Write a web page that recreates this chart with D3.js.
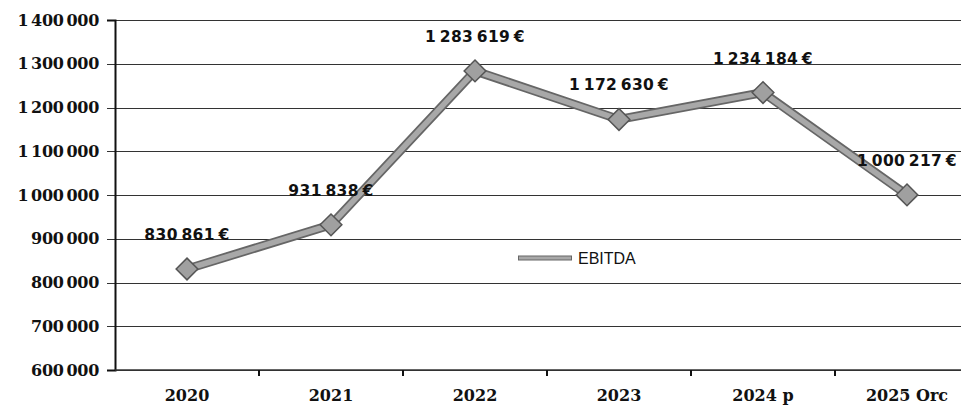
<!DOCTYPE html>
<html>
<head>
<meta charset="utf-8">
<script src="https://cdn.jsdelivr.net/npm/d3@7"></script>
<style>
  body { margin: 0; background: #fff; }
  svg { display: block; }
</style>
</head>
<body>
<div id="wrapper"></div>
<script>
// data
const years = ["2020", "2021", "2022", "2023", "2024 p", "2025 Orc"]
const ebitda = [830861, 931838, 1283619, 1172630, 1234184, 1000217]
const yTicks = [600000, 700000, 800000, 900000, 1000000, 1100000, 1200000, 1300000, 1400000]
const seriesName = "EBITDA"

function drawChart() {
    const width = 961
    const height = 405
    // the plot runs past the right edge of the window, like the scan
    const margin = { top: 20, left: 115, bottom: 35 }
    const plotRight = 979

    const svg = d3.select("#wrapper")
        .append("svg")
            .attr("width", width)
            .attr("height", height)

    const xScale = d3.scaleBand()
        .domain(years)
        .range([margin.left, plotRight])
        .paddingInner(0)

    const yScale = d3.scaleLinear()
        .domain([600000, 1400000])
        .range([height - margin.bottom, margin.top])

    // numbers with a narrow space as thousands separator
    const fmt = d3.formatLocale({ decimal: ",", thousands: "\u2009", grouping: [3], currency: ["", ""] }).format(",.0f")

    // grid lines
    svg.append("g")
        .selectAll("line")
        .data(yTicks)
        .join("line")
            .attr("x1", margin.left - 8)
            .attr("x2", width)
            .attr("y1", d => Math.round(yScale(d)) + 0.5)
            .attr("y2", d => Math.round(yScale(d)) + 0.5)
            .attr("stroke", "#333")
            .attr("stroke-width", 1)

    // y axis
    const yAxis = svg.append("g")
        .attr("transform", `translate(${margin.left},0)`)
        .call(d3.axisLeft(yScale).tickValues(yTicks).tickFormat(fmt).tickSize(8).tickPadding(8))
    yAxis.select(".domain").attr("stroke", "#111").attr("stroke-width", 2)
    yAxis.selectAll(".tick line").remove()
    yAxis.selectAll("text")
        .attr("font-family", "DejaVu Serif")
        .attr("font-weight", "bold")
        .attr("font-size", "16px")
        .attr("letter-spacing", "-0.3px")
        .attr("fill", "#111")
        .attr("x", -16)

    // x axis, ticks between the categories
    const xAxisY = yScale(600000)
    svg.append("line")
        .attr("x1", margin.left)
        .attr("x2", width)
        .attr("y1", xAxisY)
        .attr("y2", xAxisY)
        .attr("stroke", "#333")
        .attr("stroke-width", 1.5)

    svg.append("g")
        .selectAll("line")
        .data(years.slice(1))
        .join("line")
            .attr("x1", d => xScale(d))
            .attr("x2", d => xScale(d))
            .attr("y1", xAxisY)
            .attr("y2", xAxisY + 6)
            .attr("stroke", "#111")
            .attr("stroke-width", 2)

    svg.append("g")
        .selectAll("text")
        .data(years)
        .join("text")
            .attr("x", d => xScale(d) + xScale.bandwidth() / 2)
            .attr("y", 401)
            .attr("text-anchor", "middle")
            .attr("font-family", "DejaVu Serif")
            .attr("font-weight", "bold")
            .attr("font-size", "16px")
            .attr("fill", "#111")
            .text(d => d)

    // the line, drawn twice to get a darker edge
    const cx = (d, i) => xScale(years[i]) + xScale.bandwidth() / 2
    const lineGenerator = d3.line()
        .x(cx)
        .y(d => yScale(d))

    svg.append("path")
        .attr("d", lineGenerator(ebitda))
        .attr("fill", "none")
        .attr("stroke", "#666")
        .attr("stroke-width", 9)
        .attr("stroke-linejoin", "miter")
    svg.append("path")
        .attr("d", lineGenerator(ebitda))
        .attr("fill", "none")
        .attr("stroke", "#a8a8a8")
        .attr("stroke-width", 5.5)

    // diamond markers
    const diamond = d3.symbol().type(d3.symbolDiamond2).size(300)
    svg.append("g")
        .selectAll("path")
        .data(ebitda)
        .join("path")
            .attr("transform", (d, i) => `translate(${cx(d, i)},${yScale(d)})`)
            .attr("d", diamond)
            .attr("fill", "#a0a0a0")
            .attr("stroke", "#555")
            .attr("stroke-width", 1.5)

    // value labels
    svg.append("g")
        .selectAll("text")
        .data(ebitda)
        .join("text")
            .attr("x", cx)
            .attr("y", d => yScale(d) - 29)
            .attr("text-anchor", "middle")
            .attr("font-family", "DejaVu Sans")
            .attr("font-weight", "bold")
            .attr("font-size", "15.5px")
            .attr("letter-spacing", "0.4px")
            .attr("fill", "#111")
            .text(d => fmt(d) + "\u2009€")

    // legend
    const legend = svg.append("g")
        .attr("transform", "translate(518,258)")
    legend.append("line")
        .attr("x1", 0).attr("x2", 54)
        .attr("stroke", "#666").attr("stroke-width", 5)
    legend.append("line")
        .attr("x1", 1).attr("x2", 53)
        .attr("stroke", "#a8a8a8").attr("stroke-width", 3)
    legend.append("text")
        .attr("x", 60)
        .attr("y", 6)
        .attr("font-family", "Liberation Sans")
        .attr("font-size", "16px")
        .attr("fill", "#111")
        .text(seriesName)
}

drawChart()
</script>
</body>
</html>
